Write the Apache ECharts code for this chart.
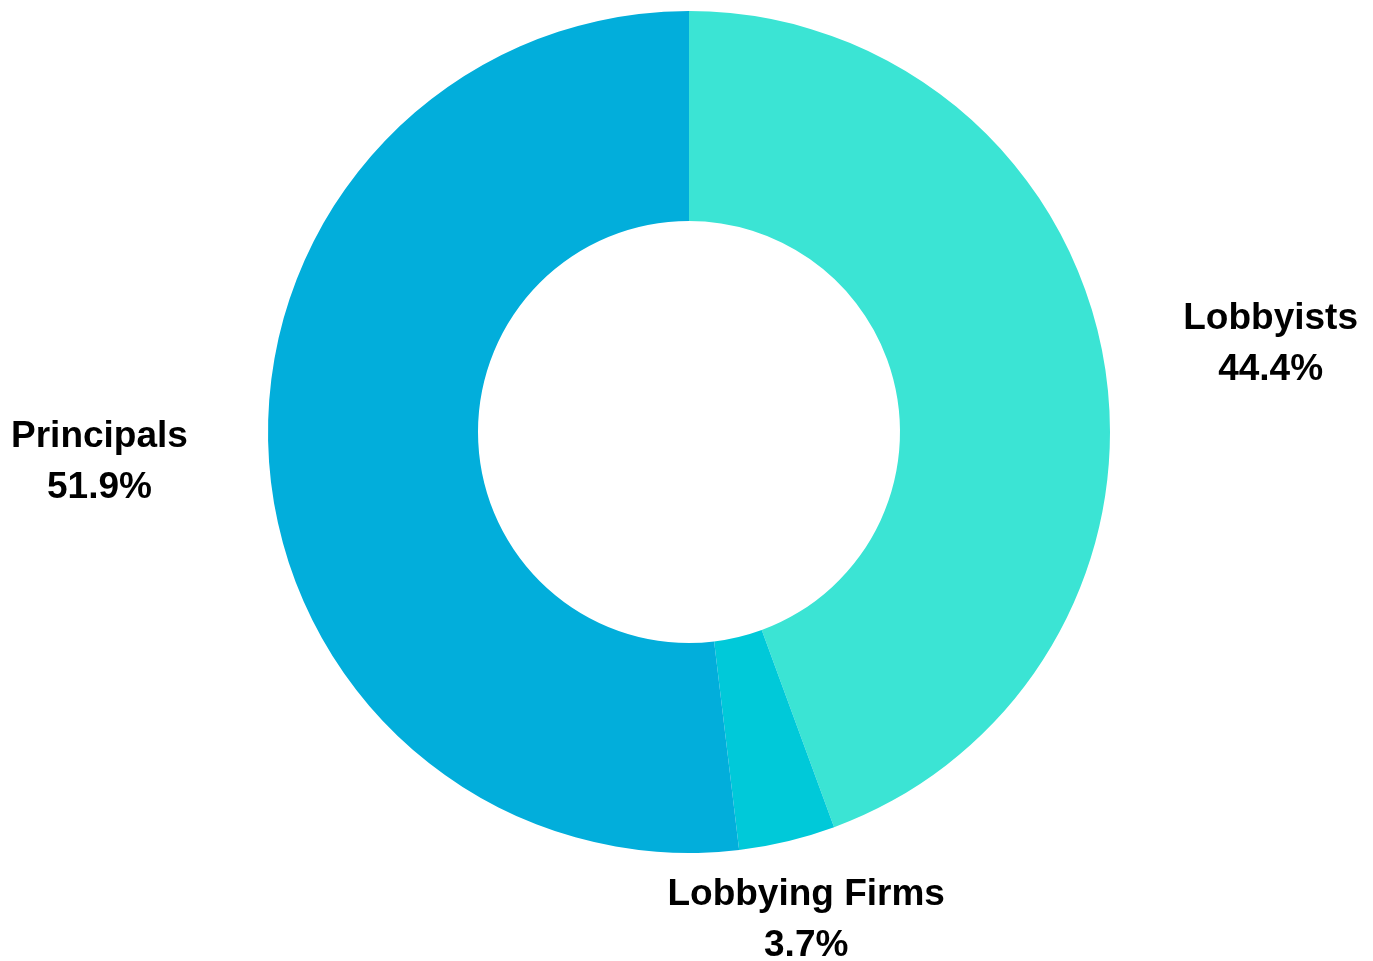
<!DOCTYPE html>
<html>
<head>
<meta charset="utf-8">
<script src="https://cdn.jsdelivr.net/npm/echarts@6/dist/echarts.min.js"></script>
<style>
html,body{margin:0;padding:0;background:#fff;}
#chart{width:1373px;height:961px;}
</style>
</head>
<body>
<div id="chart"></div>
<script>
const categories = ['Lobbyists', 'Lobbying Firms', 'Principals'];
const values = [44.4, 3.7, 51.9];
const colors = ['#3be4d4', '#00c9d9', '#02aedb'];

const labelFont = {
  fontFamily: '"Liberation Sans", Arial, sans-serif',
  fontWeight: 'bold',
  fontSize: 37,
  lineHeight: 51,
  color: '#000',
  align: 'center'
};

const data = categories.map(function (name, i) {
  const item = { name: name, value: values[i], itemStyle: { color: colors[i] } };
  if (name === 'Lobbying Firms') {
    item.label = {
      distanceToLabelLine: -150,
      rich: { t: Object.assign({}, labelFont, { width: 300 }) }
    };
  }
  return item;
});

const chart = echarts.init(document.getElementById('chart'));
chart.setOption({
  animation: false,
  series: [{
    type: 'pie',
    center: [689, 432],
    radius: [211, 421],
    startAngle: 90,
    clockwise: true,
    avoidLabelOverlap: false,
    percentPrecision: 1,
    itemStyle: { borderWidth: 0 },
    label: {
      show: true,
      position: 'outside',
      distanceToLabelLine: 0,
      formatter: '{t|{b}}\n{t|{d}%}',
      rich: { t: labelFont }
    },
    labelLine: { show: false, length: 81, length2: 0 },
    emphasis: { disabled: true },
    data: data
  }]
});
</script>
</body>
</html>
